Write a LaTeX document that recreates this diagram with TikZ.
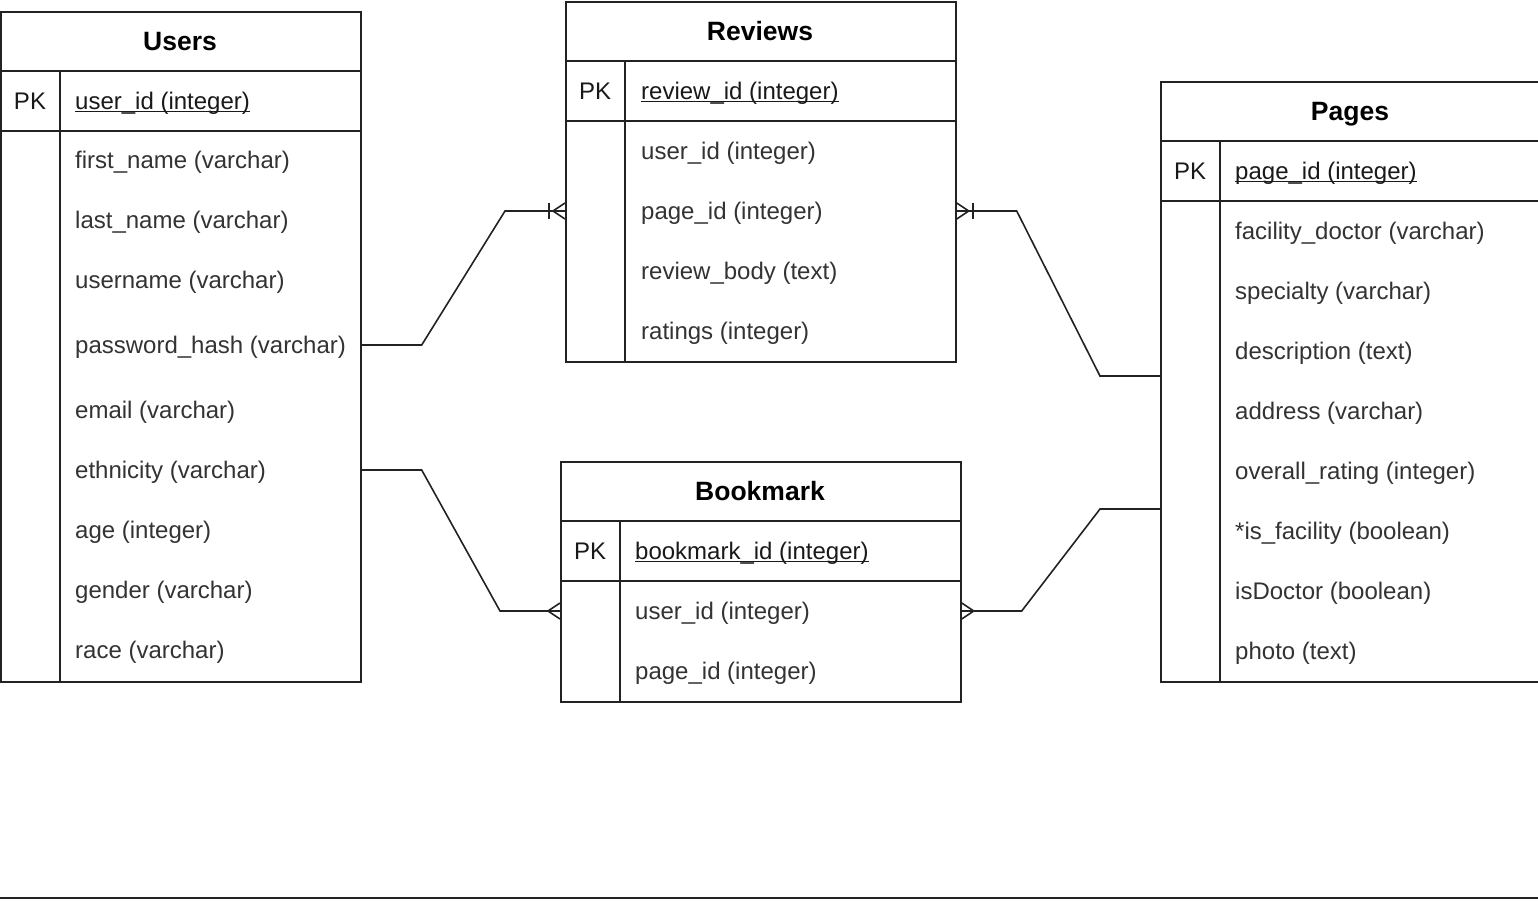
\documentclass[tikz,border=0pt]{standalone}
\usepackage{fontspec}
\setmainfont{Liberation Sans}
\usetikzlibrary{calc}
\definecolor{linec}{HTML}{222222}
\definecolor{fieldc}{HTML}{333333}
\newcommand\pkul[1]{\setbox0\hbox{#1}\rlap{\rule[-2.8pt]{\wd0}{1.3pt}}\box0}
\begin{document}
\begin{tikzpicture}[x=1pt,y=-1pt,
  tbl/.style={draw=linec, line width=1.7pt, anchor=north west, inner sep=0pt, fill=white},
  tline/.style={draw=linec, line width=1.7pt},
  txt/.style={inner sep=0pt, text height=21.7pt, text depth=5.1pt, font=\fontsize{24}{29}\selectfont},
  title/.style={inner sep=0pt, text height=23.5pt, text depth=5.5pt, font=\bfseries\fontsize{26.5}{31}\selectfont, text=black},
  pk/.style={txt, text=black!90},
  field/.style={txt, anchor=west, text=fieldc},
  pkfield/.style={txt, anchor=west, text=black!90},
  conn/.style={draw=linec, line width=1.6pt},
  pics/crowmany/.style={code={\draw[conn] (0,-8) -- (-12,0) -- (0,8);}},
  pics/crowone/.style={code={\draw[conn] (0,-8) -- (-12,0) -- (0,8); \draw[conn] (-16,-8) -- (-16,8);}}
]
\useasboundingbox (0,0) rectangle (1538,900);

% ---------- Users ----------
\node[tbl, minimum width=360pt, minimum height=670pt] (users) at (0,11) {};
\draw[tline] ($(users.north west)+(0,60)$) -- ++(360,0);
\draw[tline] ($(users.north west)+(0,120)$) -- ++(360,0);
\draw[tline] ($(users.north west)+(60,60)$) -- ($(users.south west)+(60,0)$);
\node[title] (usersT) at (180,41) {Users};
\node[pk] (usersPK) at (30,101) {PK};
\node[pkfield] (uid) at (75,101) {\pkul{user\_id (integer)}};
\node[field] (ufn) at (75,160.5) {first\_name (varchar)};
\node[field] (uln) at (75,220) {last\_name (varchar)};
\node[field] (uun) at (75,280) {username (varchar)};
\node[field] (upw) at (75,345) {password\_hash (varchar)};
\node[field] (uem) at (75,410) {email (varchar)};
\node[field] (ueth) at (75,470) {ethnicity (varchar)};
\node[field] (uage) at (75,530) {age (integer)};
\node[field] (ugen) at (75,590) {gender (varchar)};
\node[field] (urace) at (75,650.5) {race (varchar)};

% ---------- Reviews ----------
\node[tbl, minimum width=390pt, minimum height=360pt] (reviews) at (565,1) {};
\draw[tline] ($(reviews.north west)+(0,60)$) -- ++(390,0);
\draw[tline] ($(reviews.north west)+(0,120)$) -- ++(390,0);
\draw[tline] ($(reviews.north west)+(60,60)$) -- ($(reviews.south west)+(60,0)$);
\node[title] (reviewsT) at (760,31) {Reviews};
\node[pk] (reviewsPK) at (595,91) {PK};
\node[pkfield] (rid) at (641,91) {\pkul{review\_id (integer)}};
\node[field] (ruid) at (641,151) {user\_id (integer)};
\node[field] (rpid) at (641,211) {page\_id (integer)};
\node[field] (rbody) at (641,271) {review\_body (text)};
\node[field] (rrat) at (641,331) {ratings (integer)};

% ---------- Bookmark ----------
\node[tbl, minimum width=400pt, minimum height=240pt] (bookmark) at (560,461) {};
\draw[tline] ($(bookmark.north west)+(0,60)$) -- ++(400,0);
\draw[tline] ($(bookmark.north west)+(0,120)$) -- ++(400,0);
\draw[tline] ($(bookmark.north west)+(60,60)$) -- ($(bookmark.south west)+(60,0)$);
\node[title] (bookmarkT) at (760,491) {Bookmark};
\node[pk] (bookmarkPK) at (590,551) {PK};
\node[pkfield] (bid) at (635,551) {\pkul{bookmark\_id (integer)}};
\node[field] (buid) at (635,611) {user\_id (integer)};
\node[field] (bpid) at (635,671) {page\_id (integer)};

% ---------- Pages ----------
\node[tbl, minimum width=380pt, minimum height=600pt] (pages) at (1160,81) {};
\draw[tline] ($(pages.north west)+(0,60)$) -- ++(380,0);
\draw[tline] ($(pages.north west)+(0,120)$) -- ++(380,0);
\draw[tline] ($(pages.north west)+(60,60)$) -- ($(pages.south west)+(60,0)$);
\node[title] (pagesT) at (1350,111) {Pages};
\node[pk] (pagesPK) at (1190,171) {PK};
\node[pkfield] (pid) at (1235,171) {\pkul{page\_id (integer)}};
\node[field] (pfd) at (1235,231) {facility\_doctor (varchar)};
\node[field] (pspec) at (1235,291) {specialty (varchar)};
\node[field] (pdesc) at (1235,351) {description (text)};
\node[field] (paddr) at (1235,411) {address (varchar)};
\node[field] (porat) at (1235,471) {overall\_rating (integer)};
\node[field] (pisf) at (1235,531) {*is\_facility (boolean)};
\node[field] (pisd) at (1235,591) {isDoctor (boolean)};
\node[field] (pphoto) at (1235,651) {photo (text)};

% ---------- Connectors ----------
\coordinate (pgA) at ($(pages.north west)+(0,295)$);
\coordinate (pgB) at ($(pages.north west)+(0,428)$);

\draw[conn] (users.east |- upw) -- ++(60,0) -- ($(reviews.west |- rpid)+(-60,0)$) -- (reviews.west |- rpid);
\pic at (reviews.west |- rpid) {crowone};

\draw[conn] (pgA) -- ++(-60,0) -- ($(reviews.east |- rpid)+(60,0)$) -- (reviews.east |- rpid);
\pic[xscale=-1] at (reviews.east |- rpid) {crowone};

\draw[conn] (users.east |- ueth) -- ++(60,0) -- ($(bookmark.west |- buid)+(-60,0)$) -- (bookmark.west |- buid);
\pic at (bookmark.west |- buid) {crowmany};

\draw[conn] (pgB) -- ++(-60,0) -- ($(bookmark.east |- buid)+(60,0)$) -- (bookmark.east |- buid);
\pic[xscale=-1] at (bookmark.east |- buid) {crowmany};

% ---------- bottom rule ----------
\coordinate (bl) at (0,898);
\coordinate (br) at (1538,898);
\draw[draw=linec, line width=2.2pt] (bl) -- (br);
\end{tikzpicture}
\end{document}
